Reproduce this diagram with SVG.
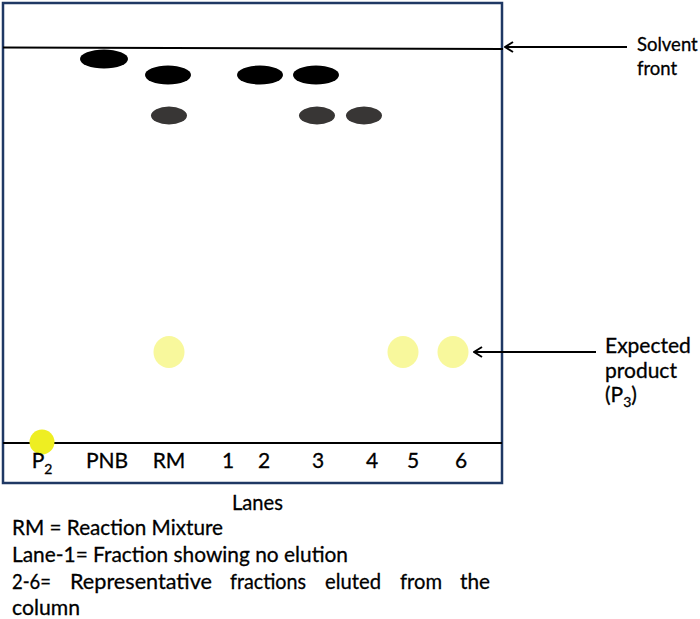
<svg xmlns="http://www.w3.org/2000/svg" width="700" height="619" viewBox="0 0 700 619">
<defs>
<style>
text{font-family:Lato,"Liberation Sans",sans-serif;fill:#000;stroke:#000;stroke-width:0.3}
.lane{font-size:21px;text-anchor:middle}
.lbl{font-size:21px}
.note{font-size:22px}
.black{fill:#000}
.gray{fill:#383635}
.pale{fill:#f8f89c}
.p2{fill:#eeee22}
.conn{stroke:#000;stroke-width:2;fill:none}
</style>
<marker id="ah" viewBox="0 0 10 12" refX="9" refY="6" markerWidth="10" markerHeight="12" markerUnits="userSpaceOnUse" orient="auto">
<path d="M1,1 L9,6 L1,11" fill="none" stroke="#000" stroke-width="2"/>
</marker>
</defs>
<rect width="700" height="619" fill="#fff"/>
<g id="plate">
<rect x="3" y="3" width="499" height="480" fill="none" stroke="#1f3864" stroke-width="2.5"/>
<line x1="3" y1="47.5" x2="503" y2="49" stroke="#000" stroke-width="2"/>
<line x1="3" y1="443" x2="502" y2="443" stroke="#000" stroke-width="2"/>
</g>
<g id="spots">
<ellipse class="black" cx="104" cy="59" rx="24" ry="9.5"/>
<ellipse class="black" cx="168" cy="75" rx="23" ry="9.5"/>
<ellipse class="black" cx="260" cy="75" rx="23" ry="9.5"/>
<ellipse class="black" cx="316" cy="75" rx="23" ry="9.5"/>
<ellipse class="gray" cx="169" cy="115.5" rx="18" ry="9"/>
<ellipse class="gray" cx="317" cy="115.5" rx="18" ry="9"/>
<ellipse class="gray" cx="364" cy="115.5" rx="18" ry="9"/>
<ellipse class="pale" cx="169" cy="352" rx="15.5" ry="16"/>
<ellipse class="pale" cx="403" cy="352" rx="15.5" ry="16"/>
<ellipse class="pale" cx="453" cy="352" rx="15.5" ry="16"/>
<circle class="p2" cx="42" cy="442" r="12.5"/>
</g>
<g id="lane-labels">
<text class="lane" x="42" y="468" text-anchor="start">P<tspan font-size="14" dy="6">2</tspan></text>
<text class="lane" x="107" y="468">PNB</text>
<text class="lane" x="169" y="468">RM</text>
<text class="lane" x="228" y="468">1</text>
<text class="lane" x="264" y="468">2</text>
<text class="lane" x="318" y="468">3</text>
<text class="lane" x="372" y="468">4</text>
<text class="lane" x="413" y="468">5</text>
<text class="lane" x="461" y="468">6</text>
</g>
<g id="connectors">
<line class="conn" x1="627" y1="47" x2="505" y2="47" marker-end="url(#ah)"/>
<line class="conn" x1="596" y1="352" x2="474" y2="352" marker-end="url(#ah)"/>
</g>
<g id="solvent-front-label">
<text x="637" y="51" font-size="18.5">Solvent</text>
<text x="637" y="75" font-size="18.5">front</text>
</g>
<g id="product-label">
<text class="lbl" x="605" y="353">Expected</text>
<text class="lbl" x="605" y="378">product</text>
<text class="lbl" x="605" y="402">(P<tspan font-size="14" dy="5">3</tspan><tspan dy="-5">)</tspan></text>
</g>
<g id="legend">
<text class="note" x="232" y="510" textLength="51" lengthAdjust="spacingAndGlyphs">Lanes</text>
<text class="note" x="12" y="535" textLength="211" lengthAdjust="spacingAndGlyphs">RM = Reaction Mixture</text>
<text class="note" x="12" y="562" textLength="336" lengthAdjust="spacingAndGlyphs">Lane-1= Fraction showing no elution</text>
<text class="note" x="12" y="589" textLength="39" lengthAdjust="spacingAndGlyphs">2-6=</text>
<text class="note" x="70" y="589" textLength="142" lengthAdjust="spacingAndGlyphs">Representative</text>
<text class="note" x="230" y="589" textLength="76" lengthAdjust="spacingAndGlyphs">fractions</text>
<text class="note" x="325" y="589" textLength="56" lengthAdjust="spacingAndGlyphs">eluted</text>
<text class="note" x="400" y="589" textLength="42" lengthAdjust="spacingAndGlyphs">from</text>
<text class="note" x="460" y="589" textLength="30" lengthAdjust="spacingAndGlyphs">the</text>
<text class="note" x="12" y="615" textLength="68" lengthAdjust="spacingAndGlyphs">column</text>
</g>
</svg>
